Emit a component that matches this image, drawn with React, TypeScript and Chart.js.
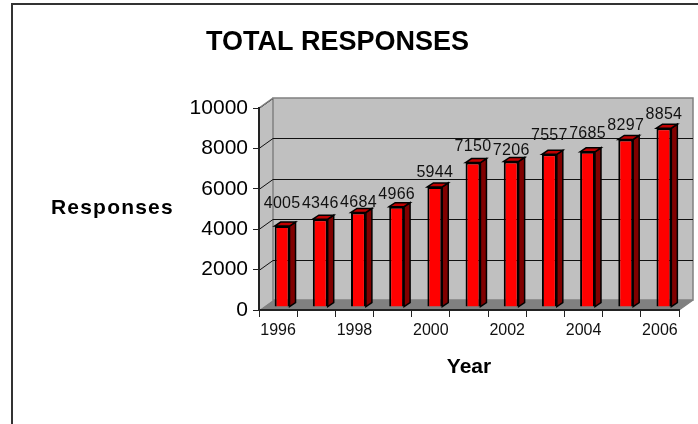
import React, { useEffect, useRef } from "react";
import { Chart, registerables } from "chart.js";

Chart.register(...registerables);

const years = ["1996", "1997", "1998", "1999", "2000", "2001", "2002", "2003", "2004", "2005", "2006"];
const responses = [4005, 4346, 4684, 4966, 5944, 7150, 7206, 7557, 7685, 8297, 8854];
const labelRaise = [18, 11, 5, 8, 10, 12, 6, 14, 14, 9, 9];
const titleText = "TOTAL RESPONSES";
const yAxisTitle = "Responses";
const xAxisTitle = "Year";

const FONT = "'Liberation Sans', Arial, sans-serif";
const WALL = { dx: 14, dy: -10 };
const BAR = { dx: 4, dy: -3, sideX: 6, sideY: -4 };

const poly = (ctx: CanvasRenderingContext2D, pts: number[][], fill: string | null, stroke?: string, lw = 1) => {
  ctx.beginPath();
  pts.forEach(([x, y], i) => (i ? ctx.lineTo(x, y) : ctx.moveTo(x, y)));
  ctx.closePath();
  if (fill) {
    ctx.fillStyle = fill;
    ctx.fill();
  }
  if (stroke) {
    ctx.strokeStyle = stroke;
    ctx.lineWidth = lw;
    ctx.stroke();
  }
};

const box3d = {
  id: "box3d",
  beforeDraw(chart: any) {
    const { ctx, chartArea: a, scales } = chart;
    const { dx, dy } = WALL;
    ctx.save();
    poly(ctx, [[a.left, a.top], [a.left + dx, a.top + dy], [a.left + dx, a.bottom + dy], [a.left, a.bottom]], "#c0c0c0");
    poly(ctx, [[a.left + dx, a.top + dy], [a.right + dx, a.top + dy], [a.right + dx, a.bottom + dy], [a.left + dx, a.bottom + dy]], "#c0c0c0", "#808080", 1.5);
    poly(ctx, [[a.left, a.bottom], [a.left + dx, a.bottom + dy], [a.right + dx, a.bottom + dy], [a.right, a.bottom]], "#808080");
    ctx.lineWidth = 1;
    ctx.strokeStyle = "#111";
    scales.y.ticks.forEach((t: any) => {
      if (t.value === 0) return;
      const y = Math.round(scales.y.getPixelForValue(t.value)) + 0.5;
      ctx.beginPath();
      ctx.moveTo(a.left, y);
      ctx.lineTo(a.left + dx, y + dy);
      if (t.value < scales.y.max) ctx.lineTo(a.right + dx, y + dy);
      ctx.stroke();
    });
    ctx.strokeStyle = "#808080";
    ctx.lineWidth = 1.5;
    ctx.beginPath();
    ctx.moveTo(a.left, a.top);
    ctx.lineTo(a.left + dx, a.top + dy);
    ctx.moveTo(a.right, a.bottom);
    ctx.lineTo(a.right + dx, a.bottom + dy);
    ctx.stroke();
    ctx.restore();
  },
  beforeDatasetDraw(chart: any, args: any) {
    const { ctx } = chart;
    ctx.save();
    ctx.translate(BAR.dx, BAR.dy);
    args.meta.data.forEach((b: any) => {
      const l = b.x - b.width / 2;
      const r = b.x + b.width / 2;
      const sx = BAR.sideX;
      const sy = BAR.sideY;
      poly(ctx, [[r, b.y], [r + sx, b.y + sy], [r + sx, b.base + sy], [r, b.base]], "#800000", "#000", 1.5);
      poly(ctx, [[l, b.y], [l + sx, b.y + sy], [r + sx, b.y + sy], [r, b.y]], "#c00000", "#000", 1.5);
    });
  },
  afterDatasetDraw(chart: any) {
    chart.ctx.restore();
  },
  afterDatasetsDraw(chart: any) {
    const { ctx } = chart;
    const meta = chart.getDatasetMeta(0);
    ctx.save();
    ctx.translate(BAR.dx, BAR.dy);
    ctx.font = `16px ${FONT}`;
    ctx.letterSpacing = "0.3px";
    ctx.fillStyle = "#111";
    ctx.textAlign = "center";
    ctx.textBaseline = "alphabetic";
    meta.data.forEach((b: any, i: number) => {
      ctx.fillText(String(responses[i]), b.x, b.y - labelRaise[i]);
    });
    ctx.restore();
    ctx.save();
    ctx.fillStyle = "#000";
    ctx.font = `bold 21px ${FONT}`;
    ctx.letterSpacing = "1.2px";
    ctx.textAlign = "left";
    ctx.textBaseline = "middle";
    ctx.fillText(yAxisTitle, 51, 208);
    ctx.restore();
  },
};

export default function App() {
  const ref = useRef<HTMLCanvasElement>(null);
  useEffect(() => {
    const chart = new Chart(ref.current!, {
      type: "bar",
      data: {
        labels: years,
        datasets: [
          {
            label: yAxisTitle,
            data: responses,
            backgroundColor: "#ff0000",
            borderColor: "#000000",
            borderWidth: 2,
            barPercentage: 0.39,
            categoryPercentage: 1,
            clip: false as any,
          },
        ],
      },
      options: {
        animation: false,
        responsive: false,
        devicePixelRatio: 1,
        layout: { padding: { left: -4, right: 19, top: 0, bottom: 0 } },
        plugins: {
          legend: { display: false },
          tooltip: { enabled: false },
          title: {
            display: true,
            text: titleText,
            color: "#000",
            font: { family: FONT, size: 27, weight: "bold", lineHeight: 1.2 },
            padding: { top: 26.5, bottom: 49.1 },
          },
        },
        scales: {
          x: {
            afterFit: (s: any) => {
              s.height = 114;
            },
            grid: { drawOnChartArea: false, tickLength: 7, tickColor: "#222", offset: true },
            border: { color: "#222", width: 2 },
            ticks: {
              autoSkip: false,
              maxRotation: 0,
              padding: 4,
              color: "#111",
              font: { family: FONT, size: 16 },
              callback: (_v: any, i: number) => (i % 2 === 0 ? years[i] : ""),
            },
            title: {
              display: true,
              text: xAxisTitle,
              color: "#000",
              font: { family: FONT, size: 21, weight: "bold", lineHeight: 1.2 },
              padding: { top: 0, bottom: 44 },
            },
          },
          y: {
            min: 0,
            max: 10000,
            afterFit: (s: any) => {
              s.width = 263;
            },
            grid: { drawOnChartArea: false, tickLength: 6, tickColor: "#222" },
            border: { color: "#222", width: 2 },
            ticks: {
              stepSize: 2000,
              padding: 5,
              color: "#000",
              font: { family: FONT, size: 21 },
              callback: (v: any) => String(v),
            },
          },
        },
      },
      plugins: [box3d],
    } as any);
    return () => chart.destroy();
  }, []);
  return (
    <div style={{ position: "absolute", left: 0, top: 0, width: 698, height: 424, background: "#fff", overflow: "hidden" }}>
      <canvas ref={ref} width={698} height={424} style={{ display: "block" }} />
      <div
        style={{
          position: "absolute",
          left: 11,
          top: 3,
          width: 690,
          height: 440,
          border: "2px solid #333",
          boxSizing: "border-box",
          pointerEvents: "none",
        }}
      />
    </div>
  );
}
